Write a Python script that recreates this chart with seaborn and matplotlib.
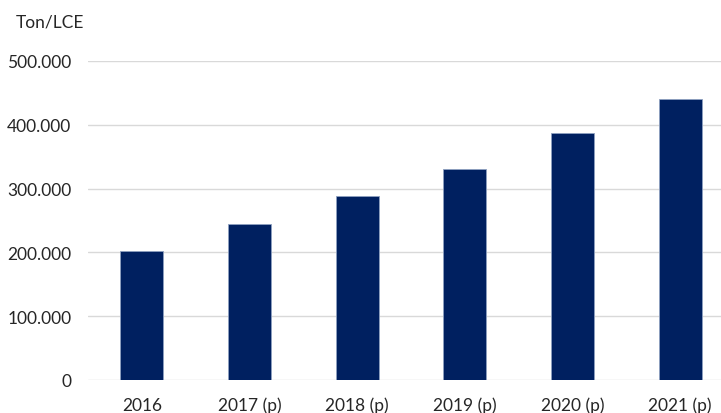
import matplotlib
matplotlib.use("Agg")
import matplotlib.pyplot as plt
import seaborn as sns
import pandas as pd
from matplotlib.ticker import FuncFormatter

categories = ["2016", "2017 (p)", "2018 (p)", "2019 (p)", "2020 (p)", "2021 (p)"]
values = [202000, 245000, 288000, 331000, 387000, 441000]
yticks = [0, 100000, 200000, 300000, 400000, 500000]

sns.set_theme(style="white")
plt.rcParams['font.family'] = ['Lato', 'DejaVu Sans']

df = pd.DataFrame({"year": categories, "value": values})

fig = plt.figure(figsize=(7.21, 4.14), dpi=100)
ax = fig.add_axes([88/721, 1-381/414, 1-88/721, (381-62)/414])
sns.barplot(data=df, x="year", y="value", color="#002060", width=0.4,
            edgecolor="#8ea0c0", linewidth=0.6, saturation=1, ax=ax, zorder=3)

ax.set_xlim(-0.5, 5.38)
ax.set_ylim(0, 500000)
ax.set_yticks(yticks)
ax.yaxis.set_major_formatter(FuncFormatter(lambda v, p: "0" if v == 0 else f"{int(v):,}".replace(",", ".")))
ax.grid(axis="y", color="#d9d9d9", linewidth=1, zorder=0)
ax.set_axisbelow(True)
for s in ax.spines.values():
    s.set_visible(False)
ax.set_xlabel("")
ax.set_ylabel("")
ax.tick_params(axis="y", labelsize=12.5, pad=12, length=0)
ax.tick_params(axis="x", labelsize=12.5, pad=12, length=0)
for lbl in ax.get_xticklabels() + ax.get_yticklabels():
    lbl.set_color("#262626")
fig.text(16/721, 1-23/414, "Ton/LCE", fontsize=12.5, color="#262626", va="center", ha="left")

fig.savefig("out.png", dpi=100)
